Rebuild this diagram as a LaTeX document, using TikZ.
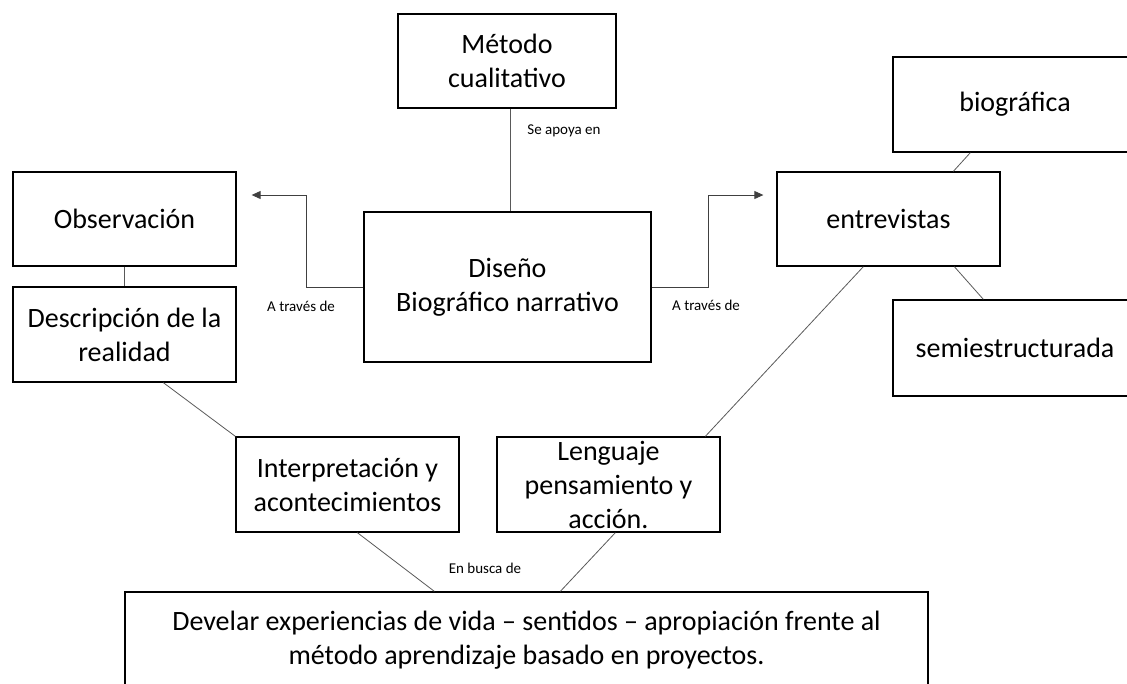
\documentclass[tikz,border=0pt]{standalone}
\usepackage{fontspec}
\setmainfont{Carlito}
\usetikzlibrary{arrows.meta,calc}
\begin{document}
\begin{tikzpicture}[x=1pt,y=-1pt,
  box/.style={draw=black,line width=1.3pt,inner sep=0pt,align=center,
    font=\fontsize{28}{34}\selectfont},
  link/.style={draw=black!65,line width=0.8pt},
  elbow/.style={draw=black!75,line width=0.9pt,-{Triangle[length=9pt,width=8pt]}},
  lbl/.style={inner sep=0pt,font=\fontsize{15}{18}\selectfont}]
\path[use as bounding box] (0,0) rectangle (1127,683);
\clip (0,0) rectangle (1127,683);
\node[box,minimum width=218pt,minimum height=94pt] (met) at (507,61) {Método\\cualitativo};
\node[box,minimum width=287pt,minimum height=150pt] (dis) at (507.5,287) {Diseño\\Biográfico narrativo};
\node[box,minimum width=223pt,minimum height=94pt] (obs) at (124.5,219) {Observación};
\node[box,minimum width=223pt,minimum height=95pt] (desc) at (124.5,334.5) {Descripción de la\\realidad};
\node[box,minimum width=223pt,minimum height=94pt] (ent) at (888.5,219) {entrevistas};
\node[box,minimum width=244pt,minimum height=95pt] (bio) at (1015,104.5) {biográfica};
\node[box,minimum width=244pt,minimum height=96pt] (semi) at (1015,348) {semiestructurada};
\node[box,minimum width=223pt,minimum height=95pt] (interp) at (347.5,484.5) {Interpretación y\\acontecimientos};
\node[box,minimum width=223pt,minimum height=95pt] (leng) at (608.5,484.5) {Lenguaje\\pensamiento y\\acción.};
\node[box,minimum width=803pt,minimum height=96pt] (dev) at (526.5,640) {Develar experiencias de vida – sentidos – apropiación frente al\\método aprendizaje basado en proyectos.};
% labels
\node[lbl] (lsa) at (564,131) {Se apoya en};
\node[lbl] (lat1) at (301,306) {A través de};
\node[lbl] (lat2) at (706,305) {A través de};
\node[lbl] (leb) at (485,568) {En busca de};
% connectors
\coordinate (tipL) at ([xshift=15pt,yshift=24pt]obs.east);
\coordinate (tipR) at ([xshift=-13pt,yshift=24pt]ent.west);
\draw[link] ([xshift=3pt]met.south) -- ([xshift=3pt]met.south |- dis.north);
\draw[link] (obs.south) -- (desc.north);
\draw[elbow] (dis.west) -- ++(-57,0) |- (tipL);
\draw[elbow] (dis.east) -- ++(57,0) |- (tipR);
\draw[link] ([xshift=151pt]desc.south west) -- (interp.north west);
\draw[link] ([xshift=87pt]ent.south west) -- ([xshift=209pt]leng.north west);
\draw[link] ([xshift=177pt]ent.north west) -- ([xshift=78pt]bio.south west);
\draw[link] ([xshift=178pt]ent.south west) -- ([xshift=91pt]semi.north west);
\draw[link] ([xshift=122pt]interp.south west) -- ([xshift=310pt]dev.north west);
\draw[link] ([xshift=119pt]leng.south west) -- ([xshift=436pt]dev.north west);
\end{tikzpicture}
\end{document}
